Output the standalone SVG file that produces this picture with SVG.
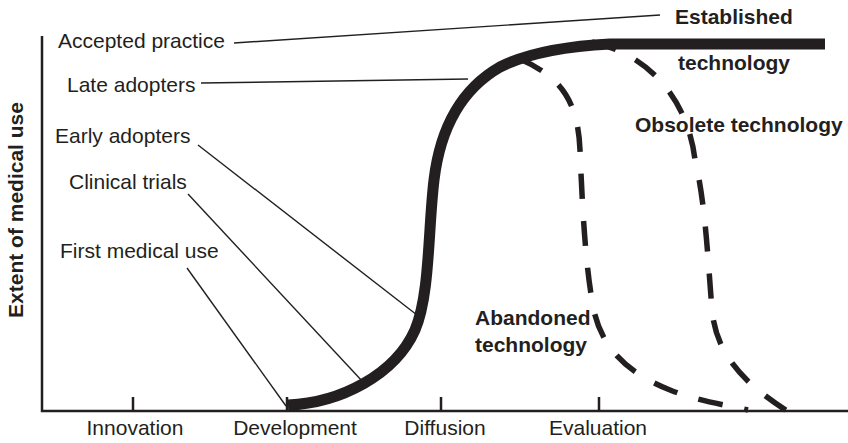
<svg xmlns="http://www.w3.org/2000/svg" width="848" height="443" viewBox="0 0 848 443">
<style>
text{font-family:"Liberation Sans",Arial,sans-serif;font-size:21px;fill:#231f20}
.b{font-weight:bold}
.m{text-anchor:middle}
.ax{stroke:#231f20;stroke-width:2.5;fill:none}
.ld{stroke:#231f20;stroke-width:1.4;fill:none}
.dash{stroke:#231f20;stroke-width:5.5;fill:none;stroke-dasharray:25 22}
</style>
<rect width="848" height="443" fill="#fff"/>
<g id="axes">
<path class="ax" d="M42,36 V411 H848"/>
<path class="ax" d="M133,397 V411 M287,397 V411 M441,397 V411 M599,397 V411"/>
<text class="b m" transform="translate(23,210) rotate(-90)">Extent of medical use</text>
<text class="m" x="135" y="435">Innovation</text>
<text class="m" x="295" y="435">Development</text>
<text class="m" x="445" y="435">Diffusion</text>
<text class="m" x="598" y="435">Evaluation</text>
</g>
<g id="connectors">
<path class="ld" d="M234,43 L660,15"/>
<path class="ld" d="M201,83 L468,79"/>
<path class="ld" d="M198,145 L417,315"/>
<path class="ld" d="M188,194 L363,382"/>
<path class="ld" d="M187,268 L286,406"/>
</g>
<g id="established-curve">
<path d="M288,405 C340,403 395,375 415,330 C430,295 428,230 434,180 C440,130 460,90 500,67 C530,52 570,46 610,44 L825,44" fill="none" stroke="#231f20" stroke-width="11"/>
</g>
<g id="abandoned-curve">
<path class="dash" stroke-dashoffset="42" d="M515,57 C560,75 578,100 580,150 C582,200 585,260 592,300 C598,345 625,372 670,390 C695,400 720,404 748,410"/>
</g>
<g id="obsolete-curve">
<path class="dash" stroke-dashoffset="0" d="M592,42 C650,55 688,100 695,160 C705,200 708,260 712,310 C716,355 745,385 792,414"/>
</g>
<g id="labels">
<text x="58" y="48">Accepted practice</text>
<text x="67" y="92">Late adopters</text>
<text x="55" y="143">Early adopters</text>
<text x="69" y="189">Clinical trials</text>
<text x="60" y="258">First medical use</text>
<text class="b" x="675" y="24">Established</text>
<text class="b" x="678" y="70">technology</text>
<text class="b" x="635" y="132">Obsolete technology</text>
<text class="b" x="475" y="325">Abandoned</text>
<text class="b" x="475" y="352">technology</text>
</g>
</svg>
